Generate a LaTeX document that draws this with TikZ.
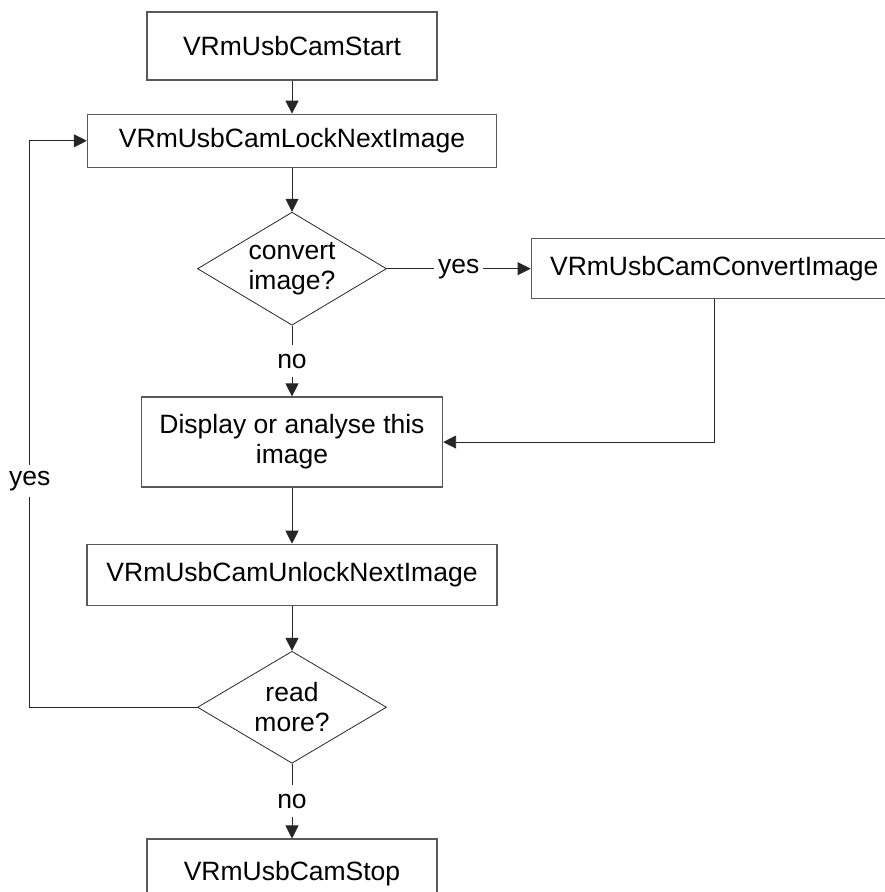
\documentclass[tikz,border=0pt]{standalone}
\usepackage{fontspec}
\setmainfont{Liberation Sans}
\usepackage{tikz}
\usetikzlibrary{matrix,shapes.geometric,arrows.meta}

\tikzset{
    stepbox/.style={draw=black!65, line width=1.3pt, align=center, inner sep=0pt},
    decision/.style={diamond, draw=black!85, line width=0.8pt, align=center, inner sep=0pt,
        aspect=1.67, minimum width=189pt, minimum height=113pt},
    flow/.style={->, >={Triangle[length=13pt,width=13pt]}, draw=black!85, line width=0.9pt},
    lbl/.style={fill=white, inner sep=4pt, minimum height=32pt}
}

\begin{document}
\begin{tikzpicture}[font=\fontsize{26.5}{30}\selectfont]

    \useasboundingbox (0,0) rectangle (885pt,-892pt);
    \clip (0,0) rectangle (885pt,-892pt);

    \matrix[matrix anchor=start.center, column sep=33pt] (flowchart) at (292pt,-46pt)
    {
        \node[stepbox, minimum width=290pt, minimum height=68pt] (start) {VRmUsbCamStart}; \\[33pt]
        \node[stepbox, minimum width=409pt, minimum height=53pt] (lock) {VRmUsbCamLockNextImage}; \\[44pt]
        \node[decision] (convert) {convert\\image?}; &
        \node[stepbox, minimum width=366pt, minimum height=60pt] (convimg) {VRmUsbCamConvertImage}; \\[71pt]
        \node[stepbox, minimum width=301pt, minimum height=90pt] (display) {Display or analyse this\\image}; \\[56pt]
        \node[stepbox, minimum width=410pt, minimum height=61pt] (unlock) {VRmUsbCamUnlockNextImage}; \\[45pt]
        \node[decision, minimum height=112pt] (read) {read\\more?}; \\[75pt]
        \node[stepbox, minimum width=290pt, minimum height=68pt] (stop) {VRmUsbCamStop}; \\
    };

    \draw[flow] (start) -- (lock);
    \draw[flow] (lock) -- (convert);
    \draw[flow] (convert) -- node[lbl] {yes} (convimg);
    \draw[flow] (convert) -- node[lbl] {no} (display);
    \draw[flow] (convimg.south) |- (display.east);
    \draw[flow] (display) -- (unlock);
    \draw[flow] (unlock) -- (read);
    \draw[flow] (read) -- node[lbl] {no} (stop);
    \draw[flow] (read.west) -| ([xshift=-57pt]lock.west) node[lbl, pos=0.7] {yes} -- (lock.west);

\end{tikzpicture}
\end{document}
